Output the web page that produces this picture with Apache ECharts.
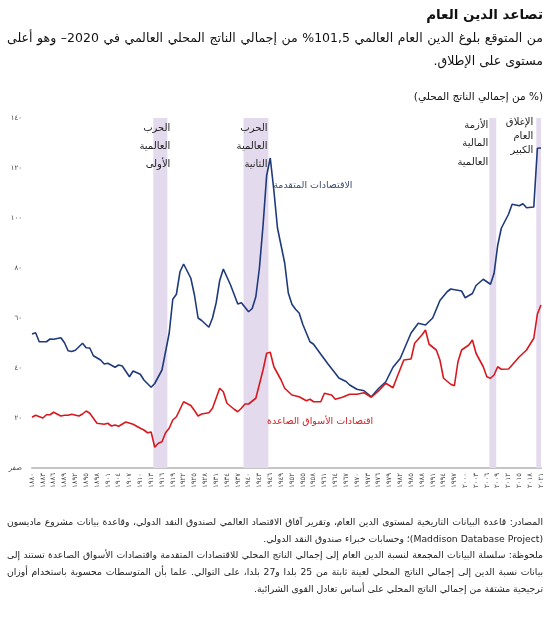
<!DOCTYPE html>
<html>
<head>
<meta charset="utf-8">
<script src="https://cdn.jsdelivr.net/npm/echarts@6/dist/echarts.min.js"></script>
<style>
  html, body { margin:0; padding:0; background:#fff; }
  #wrap { position:relative; width:550px; height:629px; overflow:hidden; }
  #chart { position:absolute; left:0; top:0; width:550px; height:629px; }
  .txt { position:absolute; direction:rtl; color:#111; font-family:"DejaVu Sans", sans-serif; }
  .ln { white-space:nowrap; text-align:justify; text-align-last:justify; }
  .ln.last { text-align:right; text-align-last:right; }
  .ln span { display:inline; }
</style>
</head>
<body>
<div id="wrap">
  <div id="chart"></div>
  <div class="txt" id="title" style="top:4px; right:7px; font-weight:bold; font-size:13.5px; line-height:20px;">تصاعد الدين العام</div>
  <div class="txt block" id="sub" data-max="15" style="top:26px; left:7px; right:7px; line-height:23px;">
    <div class="ln"><span>من المتوقع بلوغ الدين العام العالمي 101,5% من إجمالي الناتج المحلي العالمي في 2020– وهو أعلى</span></div>
    <div class="ln last"><span>مستوى على الإطلاق.</span></div>
  </div>
  <div class="txt" id="unit" style="top:88px; right:7px; font-size:10.5px; line-height:16px;">(% من إجمالي الناتج المحلي)</div>
  <div class="txt block" id="foot" data-max="10.5" style="top:514px; left:7px; right:7px; line-height:16.7px; color:#222;">
    <div class="ln"><span>المصادر: قاعدة البيانات التاريخية لمستوى الدين العام، وتقرير آفاق الاقتصاد العالمي لصندوق النقد الدولي، وقاعدة بيانات مشروع ماديسون</span></div>
    <div class="ln last"><span>(Maddison Database Project)؛ وحسابات خبراء صندوق النقد الدولي.</span></div>
    <div class="ln"><span>ملحوظة: سلسلة البيانات المجمعة لنسبة الدين العام إلى إجمالي الناتج المحلي للاقتصادات المتقدمة واقتصادات الأسواق الصاعدة تستند إلى</span></div>
    <div class="ln"><span>بيانات نسبة الدين إلى إجمالي الناتج المحلي لعينة ثابتة من 25 بلدا و27 بلدا، على التوالي. علما بأن المتوسطات محسوبة باستخدام أوزان</span></div>
    <div class="ln last"><span>ترجيحية مشتقة من إجمالي الناتج المحلي على أساس تعادل القوى الشرائية.</span></div>
  </div>
</div>
<script>
// ---------------- data ----------------
const BASE_YEAR = 1880;
const LAST_YEAR = 2021;

const advYears = [1880,1881,1882,1884,1885,1886,1888,1889,1890,1891,1892,1894,1895,1896,1897,1899,1900,1901,1903,1904,1905,1907,1908,1910,1911,1913,1914,1916,1918,1919,1920,1921,1922,1924,1925,1926,1927,1929,1930,1931,1932,1933,1935,1937,1938,1940,1941,1942,1943,1944,1945,1946,1947,1948,1950,1951,1952,1953,1954,1955,1957,1958,1960,1962,1964,1965,1967,1968,1970,1972,1974,1976,1978,1980,1982,1983,1985,1987,1989,1991,1993,1995,1996,1999,2000,2002,2003,2005,2007,2008,2009,2010,2012,2013,2015,2016,2017,2019,2020,2021];
const advValues = [53.6,54.1,50.5,50.5,51.6,51.5,52.1,50.1,46.9,46.6,47.1,49.9,48.1,48.0,44.9,43.2,41.6,41.9,40.3,41.2,40.8,36.5,38.8,37.5,35.2,32.3,33.8,39.2,53.9,67.5,69.5,78.5,81.6,75.9,69.2,60.0,59.0,56.3,60.0,66.0,75.0,79.6,73.2,65.6,66.1,62.5,63.8,68.5,80.0,97.0,117.0,124.0,111.0,96.0,82.0,70.0,65.5,63.5,62.0,57.5,50.5,49.5,45.5,41.6,37.9,36.0,34.6,33.2,31.5,30.9,28.5,31.8,34.5,40.3,43.8,47.2,54.0,57.9,57.2,60.0,67.0,70.5,71.6,70.8,68.1,69.8,73.0,75.5,73.5,77.9,89.0,95.9,101.5,105.5,104.9,105.7,104.1,104.4,127.9,128.0];

const emYears = [1880,1881,1883,1884,1885,1886,1888,1889,1890,1891,1893,1894,1895,1896,1898,1900,1901,1902,1903,1904,1906,1908,1910,1911,1912,1913,1914,1915,1916,1917,1918,1919,1920,1922,1924,1925,1926,1927,1929,1930,1932,1933,1934,1936,1937,1938,1939,1940,1942,1944,1945,1946,1947,1949,1950,1952,1954,1956,1957,1958,1960,1961,1963,1964,1966,1968,1970,1972,1974,1976,1978,1980,1981,1983,1985,1986,1988,1989,1990,1992,1993,1994,1996,1997,1998,1999,2001,2002,2003,2005,2006,2007,2008,2009,2010,2012,2013,2015,2017,2019,2020,2021];
const emValues = [20.3,21.1,20.0,21.3,21.3,22.3,20.8,21.1,21.1,21.5,20.8,21.6,22.8,21.9,17.9,17.5,17.9,16.8,17.2,16.7,18.4,17.5,15.9,15.2,14.1,14.4,8.3,9.9,10.5,14.1,15.9,19.2,20.5,26.5,25.0,23.0,20.8,21.6,22.1,23.9,31.9,30.5,25.9,23.5,22.5,23.9,25.6,25.6,27.9,39.2,45.9,46.3,40.5,35.2,31.9,29.2,28.5,26.9,27.5,26.5,26.5,29.9,29.2,27.5,28.3,29.5,29.5,30.1,28.3,30.8,33.9,32.1,35.9,43.2,43.6,49.9,53.2,55.2,49.5,47.2,43.2,35.9,33.5,32.9,42.5,47.2,49.2,51.2,45.9,40.5,36.5,35.9,37.2,40.5,39.5,39.6,41.2,44.5,47.2,51.9,61.6,65.2];

const bandNames = ['الحرب\nالعالمية\nالأولى', 'الحرب\nالعالمية\nالثانية', 'الأزمة\nالمالية\nالعالمية', 'الإغلاق\nالعام\nالكبير'];
const bandStart = [1913.6, 1938.6, 2006.7, 2019.7];
const bandEnd   = [1917.5, 1945.5, 2008.6, 2021.0];

const seriesNames = ['الاقتصادات المتقدمة', 'اقتصادات الأسواق الصاعدة'];
const seriesLabelAt = [[1957.8, 112.8], [1959.8, 18.4]];

const yMin = 0, yMax = 140, yStep = 20;
const xStep = 3;
const zeroLabel = 'صفر';

// ---------------- helpers ----------------
const AR = '٠١٢٣٤٥٦٧٨٩';
function arDigits(n) { return String(n).replace(/[0-9]/g, d => AR[+d]); }

const FONT = '"DejaVu Sans", sans-serif';
const BLUE = '#1f3a7a';
const RED = '#d7191f';
const BAND = '#e4daee';

const advData = advYears.map((y, i) => [y - BASE_YEAR, advValues[i]]);
const emData = emYears.map((y, i) => [y - BASE_YEAR, emValues[i]]);

const bandLabelStyles = [
  { position: 'insideTopRight', offset: [3, 1], align: 'right', lineHeight: 18 },
  { position: 'insideTopRight', offset: [-1, 1], align: 'right', lineHeight: 18 },
  { position: 'insideTopLeft', offset: [-1, -2], align: 'right', lineHeight: 18.5 },
  { position: 'insideTopLeft', offset: [-3, -3], align: 'right', lineHeight: 14 }
];
const bands = bandNames.map((name, i) => [
  { xAxis: bandStart[i] - BASE_YEAR, name: name,
    label: Object.assign({ show: true, distance: 0, color: '#222', fontSize: 10, fontFamily: FONT }, bandLabelStyles[i]) },
  { xAxis: bandEnd[i] - BASE_YEAR }
]);

function textMark(i, color) {
  return {
    symbol: 'circle', symbolSize: 1, silent: true,
    itemStyle: { color: 'rgba(0,0,0,0)' },
    data: [{ coord: [seriesLabelAt[i][0] - BASE_YEAR, seriesLabelAt[i][1]],
      label: { show: true, formatter: seriesNames[i], color: color, fontSize: 9.5, fontFamily: FONT, position: 'inside' } }]
  };
}

const chart = echarts.init(document.getElementById('chart'), null, { renderer: 'canvas' });
chart.setOption({
  animation: false,
  backgroundColor: '#fff',
  grid: { left: 32, right: 9, top: 118, bottom: 161, containLabel: false },
  xAxis: {
    type: 'value',
    min: 0, max: LAST_YEAR - BASE_YEAR, interval: xStep,
    axisLine: { show: true, lineStyle: { color: '#c4c4c4', width: 2 } },
    axisTick: { show: false },
    splitLine: { show: false },
    axisLabel: {
      rotate: 90, fontSize: 7, color: '#444', fontFamily: FONT, margin: 5,
      formatter: v => arDigits(v + BASE_YEAR)
    }
  },
  yAxis: {
    type: 'value', min: yMin, max: yMax, interval: yStep,
    axisLine: { show: false }, axisTick: { show: false }, splitLine: { show: false },
    axisLabel: {
      fontSize: 7, color: '#444', fontFamily: FONT, margin: 10,
      formatter: v => v === 0 ? zeroLabel : arDigits(v)
    }
  },
  series: [
    {
      type: 'line', name: 'bands', data: [], silent: true,
      markArea: { silent: true, itemStyle: { color: BAND }, data: bands }
    },
    {
      type: 'line', name: seriesNames[0], data: advData, symbol: 'none', smooth: false,
      lineStyle: { color: BLUE, width: 1.6 }, z: 3,
      markPoint: textMark(0, '#3b4a6b')
    },
    {
      type: 'line', name: seriesNames[1], data: emData, symbol: 'none', smooth: false,
      lineStyle: { color: RED, width: 1.6 }, z: 3,
      markPoint: textMark(1, RED)
    }
  ]
});

// fit forced text lines into their width
document.querySelectorAll('.block').forEach(block => {
  let size = parseFloat(block.dataset.max);
  const avail = block.clientWidth;
  const spans = Array.from(block.querySelectorAll('.ln span'));
  block.style.fontSize = size + 'px';
  while (size > 6 && spans.some(s => s.getBoundingClientRect().width > avail)) {
    size -= 0.25;
    block.style.fontSize = size + 'px';
  }
});
</script>
</body>
</html>
